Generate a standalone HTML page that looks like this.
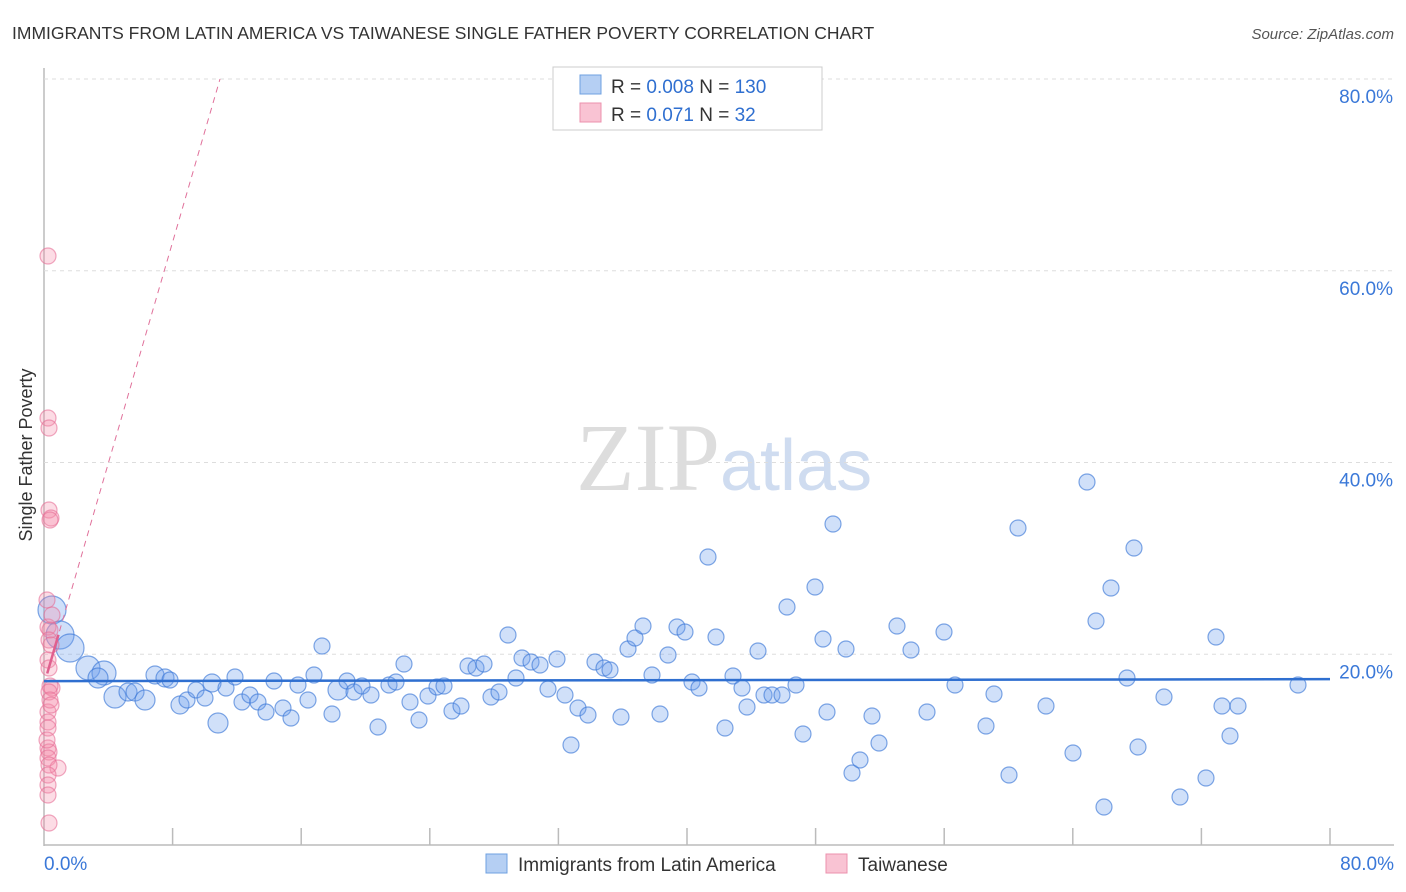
<!DOCTYPE html>
<html><head><meta charset="utf-8"><style>
body{margin:0;background:#fff;font-family:"Liberation Sans",sans-serif;}
svg{display:block}
</style></head><body>
<svg id="chart" width="1406" height="892">
<text x="12" y="39" font-size="17.5" fill="#333">IMMIGRANTS FROM LATIN AMERICA VS TAIWANESE SINGLE FATHER POVERTY CORRELATION CHART</text>
<text x="1394" y="39" font-size="15" fill="#555" font-style="italic" text-anchor="end">Source: ZipAtlas.com</text>
<text x="32" y="455" font-size="18" fill="#333" text-anchor="middle" transform="rotate(-90 32 455)">Single Father Poverty</text>
<text x="720" y="490" font-size="96" fill="#ddd" text-anchor="end" font-family="Liberation Serif">ZIP</text>
<text x="720" y="490" font-size="72" fill="#cfdcf0">atlas</text>
<g id="grid"></g><g id="marks"></g>
<g>
<rect x="553" y="67" width="269" height="63" fill="#fff" stroke="#ccc"/>
<rect x="580" y="75" width="21" height="19" fill="#b5cff3" stroke="#6fa0e0"/>
<rect x="580" y="103" width="21" height="19" fill="#f9c3d3" stroke="#ec90ae"/>
<text x="611" y="93" font-size="19" fill="#333">R = <tspan fill="#2f6fd0">0.008</tspan>   N = <tspan fill="#2f6fd0">130</tspan></text>
<text x="611" y="121" font-size="19" fill="#333">R =  <tspan fill="#2f6fd0">0.071</tspan>   N =  <tspan fill="#2f6fd0"> 32</tspan></text>
</g>
<g>
<rect x="486" y="854" width="21" height="19" fill="#b5cff3" stroke="#6fa0e0"/>
<text x="518" y="871" font-size="19" fill="#333">Immigrants from Latin America</text>
<rect x="826" y="854" width="21" height="19" fill="#f9c3d3" stroke="#ec90ae"/>
<text x="858" y="871" font-size="19" fill="#333">Taiwanese</text>
</g>
</svg>
<script>
const yTicks=[20,40,60,80];
const xTickLabels=["0.0%","80.0%"];
const bluePx=[[52,610,14],[60,635,14],[70,648,14],[88,668,12],[104,673,12],[98,678,10],[115,697,11],[128,692,9],[135,692,9],[145,700,10],[155,675,9],[165,678,9],[170,680,8],[180,705,9],[187,700,8],[196,690,8],[205,698,8],[212,683,9],[218,723,10],[226,688,8],[235,677,8],[242,702,8],[250,695,8],[258,702,8],[266,712,8],[274,681,8],[283,708,8],[291,718,8],[298,685,8],[308,700,8],[314,675,8],[322,646,8],[332,714,8],[338,690,10],[347,681,8],[354,692,8],[362,686,8],[371,695,8],[378,727,8],[389,685,8],[396,682,8],[404,664,8],[410,702,8],[419,720,8],[428,696,8],[437,687,8],[444,686,8],[452,711,8],[461,706,8],[468,666,8],[476,668,8],[484,664,8],[491,697,8],[499,692,8],[508,635,8],[516,678,8],[522,658,8],[531,662,8],[540,665,8],[548,689,8],[557,659,8],[565,695,8],[571,745,8],[578,708,8],[588,715,8],[595,662,8],[604,668,8],[610,670,8],[621,717,8],[628,649,8],[635,638,8],[643,626,8],[652,675,8],[660,714,8],[668,655,8],[677,627,8],[685,632,8],[692,682,8],[699,688,8],[708,557,8],[716,637,8],[725,728,8],[733,676,8],[742,688,8],[747,707,8],[758,651,8],[764,695,8],[772,695,8],[782,695,8],[787,607,8],[796,685,8],[803,734,8],[815,587,8],[823,639,8],[827,712,8],[833,524,8],[846,649,8],[852,773,8],[860,760,8],[872,716,8],[879,743,8],[897,626,8],[911,650,8],[927,712,8],[944,632,8],[955,685,8],[986,726,8],[994,694,8],[1009,775,8],[1018,528,8],[1046,706,8],[1073,753,8],[1087,482,8],[1096,621,8],[1104,807,8],[1111,588,8],[1127,678,8],[1134,548,8],[1138,747,8],[1164,697,8],[1180,797,8],[1206,778,8],[1216,637,8],[1222,706,8],[1230,736,8],[1238,706,8],[1298,685,8]];
const pinkPx=[[48,256],[48,418],[49,428],[49,510],[51,518],[50,520],[48,627],[50,630],[49,640],[51,645],[48,660],[49,668],[52,688],[50,686],[49,692],[48,712],[48,722],[48,728],[48,748],[49,752],[48,758],[58,768],[49,765],[48,775],[48,785],[49,823],[50,700],[51,705],[47,600],[52,615],[47,740],[48,795]];
const X0=44,X1=1330,Y0=846,PPY=191.75/20;
const blueVals=bluePx.map(p=>[(p[0]-X0)/(X1-X0)*80,(Y0-p[1])/PPY,p[2]]);
const pinkVals=pinkPx.map(p=>[(p[0]-X0)/(X1-X0)*80,(Y0-p[1])/PPY]);
const blueTrend=[17.2,17.4];
const pinkTrend=[18.0,80];const pinkTrendX=[0.2,10.95];
const sx=v=>X0+v/80*(X1-X0), sy=v=>Y0-v*PPY;
const NS="http://www.w3.org/2000/svg";
function mk(t,a,par){const e=document.createElementNS(NS,t);for(const k in a)e.setAttribute(k,a[k]);document.getElementById(par).appendChild(e);return e;}
let ax=mk('line',{x1:44,y1:68,x2:44,y2:846,stroke:'#bbb','stroke-width':1.5},'grid');

let bx=mk('line',{x1:44,y1:845,x2:1394,y2:845,stroke:'#bbb','stroke-width':1.5},'grid');

yTicks.forEach(v=>{const g=mk('line',{x1:44,y1:sy(v),x2:1394,y2:sy(v),stroke:'#ddd','stroke-dasharray':'4 4'},'grid');

const t=mk('text',{x:1393,y:sy(v)+24,'font-size':19,fill:'#3a78d8','text-anchor':'end'},'grid');t.textContent=v.toFixed(1)+'%';
});
for(let i=1;i<=10;i++){const x=sx(i*8);const l=mk('line',{x1:x,y1:828,x2:x,y2:845,stroke:'#bbb','stroke-width':1.5},'grid');
}
[[0,'start',44],[80,'end',1394]].forEach((d,i)=>{const t=mk('text',{x:d[2],y:870,'font-size':19,fill:'#3a78d8','text-anchor':d[1]},'grid');t.textContent=xTickLabels[i];
});
blueVals.forEach(p=>{const c=mk('circle',{cx:sx(p[0]),cy:sy(p[1]),r:p[2],fill:'rgba(110,160,235,0.32)',stroke:'rgba(60,120,215,0.65)','stroke-width':1.2},'marks');
});
pinkVals.forEach(p=>{const c=mk('circle',{cx:sx(p[0]),cy:sy(p[1]),r:8,fill:'rgba(245,140,170,0.3)',stroke:'rgba(230,110,150,0.6)','stroke-width':1.2},'marks');
});
let bt=mk('line',{x1:sx(0),y1:sy(blueTrend[0]),x2:sx(80),y2:sy(blueTrend[1]),stroke:'#2f6fd0','stroke-width':2.5},'marks');

let pt=mk('line',{x1:sx(pinkTrendX[0]),y1:sy(pinkTrend[0]),x2:sx(pinkTrendX[1]),y2:sy(pinkTrend[1]),stroke:'#e0709a','stroke-width':1,'stroke-dasharray':'6 5'},'marks');

let ps=mk('line',{x1:sx(pinkTrendX[0]),y1:sy(pinkTrend[0]),x2:sx(0.9),y2:sy(pinkTrend[0]+(pinkTrend[1]-pinkTrend[0])*(0.7/(pinkTrendX[1]-pinkTrendX[0]))),stroke:'#e0608e','stroke-width':2.5},'marks');

</script>
</body></html>
